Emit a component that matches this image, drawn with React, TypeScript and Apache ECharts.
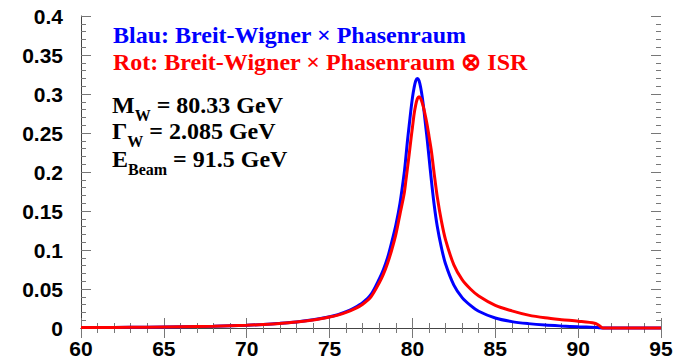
import React, { useEffect, useRef } from "react";
import * as echarts from "echarts";

const xValues = [
  60, 62, 64, 66, 68, 70, 71, 72, 73, 74, 75, 75.5, 76, 76.5, 77, 77.5, 78, 78.25, 78.5, 78.75,
  79, 79.25, 79.5, 79.6, 79.7, 79.8, 79.9, 80, 80.1, 80.2, 80.3, 80.4, 80.5, 80.6, 80.7, 80.8,
  80.9, 81, 81.15, 81.3, 81.5, 81.75, 82, 82.5, 83, 83.5, 84, 85, 86, 87, 88, 89, 90, 91, 91.25,
  91.5, 95,
];

// Blau: Breit-Wigner x Phasenraum
const blueValues = [
  0.0006, 0.0008, 0.0011, 0.0016, 0.0023, 0.0036, 0.0046, 0.006, 0.0078, 0.0105, 0.0145, 0.0172,
  0.021, 0.026, 0.0325, 0.043, 0.063, 0.075, 0.09, 0.11, 0.132, 0.16, 0.198, 0.218, 0.24, 0.259,
  0.278, 0.295, 0.308, 0.317, 0.32, 0.317, 0.308, 0.295, 0.278, 0.259, 0.24, 0.219, 0.188, 0.16,
  0.13, 0.103, 0.082, 0.055, 0.039, 0.029, 0.0215, 0.0128, 0.0082, 0.0056, 0.0038, 0.0026, 0.0016,
  0.0008, 0.0004, 0, 0,
];

// Rot: Breit-Wigner x Phasenraum (x) ISR
const redValues = [
  0.0006, 0.0008, 0.0011, 0.0016, 0.0023, 0.0035, 0.0045, 0.0058, 0.0076, 0.0102, 0.014, 0.0165,
  0.02, 0.0245, 0.0305, 0.04, 0.058, 0.069, 0.083, 0.1, 0.12, 0.146, 0.172, 0.188, 0.205, 0.222,
  0.24, 0.257, 0.274, 0.286, 0.294, 0.2966, 0.294, 0.288, 0.28, 0.27, 0.259, 0.246, 0.226, 0.2,
  0.168, 0.137, 0.113, 0.081, 0.062, 0.05, 0.041, 0.029, 0.022, 0.0165, 0.013, 0.0107, 0.0088,
  0.0062, 0.0035, 0, 0,
];

const xMin = 60;
const xMax = 95;
const xInterval = 5;
const yMin = 0;
const yMax = 0.4;
const yInterval = 0.05;

const blueLabel = "Blau: Breit-Wigner \u00d7 Phasenraum";
const redLabel = "Rot: Breit-Wigner \u00d7 Phasenraum \u2297 ISR";
const massLabel = { main: "M", sub: "W", rest: " = 80.33 GeV" };
const widthLabel = { main: "\u0393", sub: "W", rest: " = 2.085 GeV" };
const beamLabel = { main: "E", sub: "Beam", rest: " = 91.5 GeV" };

const SERIF = "Liberation Serif";
const SANS = "Liberation Sans";

function subText(lbl: { main: string; sub: string; rest: string }, x: number, y: number) {
  return {
    type: "text",
    x,
    y,
    style: {
      text: `{m|${lbl.main}}{s|${lbl.sub}}{m|${lbl.rest}}`,
      fontFamily: SERIF,
      fontWeight: "bold",
      fontSize: 24,
      verticalAlign: "top",
      align: "left",
      rich: {
        m: {
          fontFamily: SERIF,
          fontWeight: "bold",
          fontSize: 24,
          lineHeight: 24,
          verticalAlign: "top",
          fill: "#000",
        },
        s: {
          fontFamily: SERIF,
          fontWeight: "bold",
          fontSize: 16,
          lineHeight: 30,
          verticalAlign: "bottom",
          fill: "#000",
        },
      },
    },
  };
}

export default function App() {
  const ref = useRef<HTMLDivElement>(null);
  useEffect(() => {
    if (!ref.current) return;
    const chart = echarts.init(ref.current, undefined, { renderer: "svg" });
    const axisLabelStyle = {
      fontFamily: SANS,
      fontWeight: "bold",
      fontSize: 21,
      color: "#000",
    };
    const lineColor = "#444";
    const tickColor = "#777";
    chart.setOption({
      animation: false,
      backgroundColor: "#fff",
      grid: { left: 81, right: 20, top: 16, bottom: 31, containLabel: false },
      xAxis: [
        {
          type: "value",
          position: "bottom",
          min: xMin,
          max: xMax,
          interval: xInterval,
          axisLine: { show: true, lineStyle: { color: lineColor, width: 1 } },
          axisTick: { show: true, inside: true, length: 10, lineStyle: { color: tickColor } },
          minorTick: { show: true, splitNumber: 5, length: 5, lineStyle: { color: tickColor } },
          splitLine: { show: false },
          axisLabel: { ...axisLabelStyle, margin: 10 },
        },
        {
          type: "value",
          position: "top",
          min: xMin,
          max: xMax,
          interval: xInterval,
          axisLine: { show: true, lineStyle: { color: lineColor, width: 1 } },
          axisTick: { show: true, inside: true, length: 10, lineStyle: { color: tickColor } },
          minorTick: { show: true, splitNumber: 5, length: 5, lineStyle: { color: tickColor } },
          splitLine: { show: false },
          axisLabel: { show: false },
        },
      ],
      yAxis: [
        {
          type: "value",
          position: "left",
          min: yMin,
          max: yMax,
          interval: yInterval,
          axisLine: { show: true, lineStyle: { color: lineColor, width: 1 } },
          axisTick: { show: true, inside: true, length: 10, lineStyle: { color: tickColor } },
          minorTick: { show: true, splitNumber: 5, length: 5, lineStyle: { color: tickColor } },
          splitLine: { show: false },
          axisLabel: { ...axisLabelStyle, margin: 18 },
        },
        {
          type: "value",
          position: "right",
          min: yMin,
          max: yMax,
          interval: yInterval,
          axisLine: { show: false },
          axisTick: { show: true, inside: true, length: 10, lineStyle: { color: tickColor } },
          minorTick: { show: true, splitNumber: 5, length: 5, lineStyle: { color: tickColor } },
          splitLine: { show: false },
          axisLabel: { show: false },
        },
      ],
      series: [
        {
          name: "Blau",
          type: "line",
          xAxisIndex: 0,
          yAxisIndex: 0,
          data: xValues.map((x, i) => [x, blueValues[i]]),
          showSymbol: false,
          smooth: 0.3,
          clip: false,
          lineStyle: { color: "#0000ff", width: 3 },
          itemStyle: { color: "#0000ff" },
        },
        {
          name: "Rot",
          type: "line",
          xAxisIndex: 0,
          yAxisIndex: 0,
          data: xValues.map((x, i) => [x, redValues[i]]),
          showSymbol: false,
          smooth: 0.3,
          clip: false,
          lineStyle: { color: "#ff0000", width: 3 },
          itemStyle: { color: "#ff0000" },
        },
      ],
      graphic: [
        {
          type: "text",
          x: 113,
          y: 35,
          style: {
            text: blueLabel,
            fontFamily: SERIF,
            fontWeight: "bold",
            fontSize: 24,
            fill: "#0000ff",
            verticalAlign: "middle",
            align: "left",
          },
        },
        {
          type: "text",
          x: 113,
          y: 62,
          style: {
            text: redLabel,
            fontFamily: SERIF,
            fontWeight: "bold",
            fontSize: 24,
            fill: "#ff0000",
            verticalAlign: "middle",
            align: "left",
          },
        },
        subText(massLabel, 112, 93),
        subText(widthLabel, 112, 119),
        subText(beamLabel, 112, 147),
      ],
    });
    return () => chart.dispose();
  }, []);
  return (
    <div
      ref={ref}
      style={{ position: "fixed", left: 0, top: 0, width: 681, height: 359 }}
    />
  );
}
